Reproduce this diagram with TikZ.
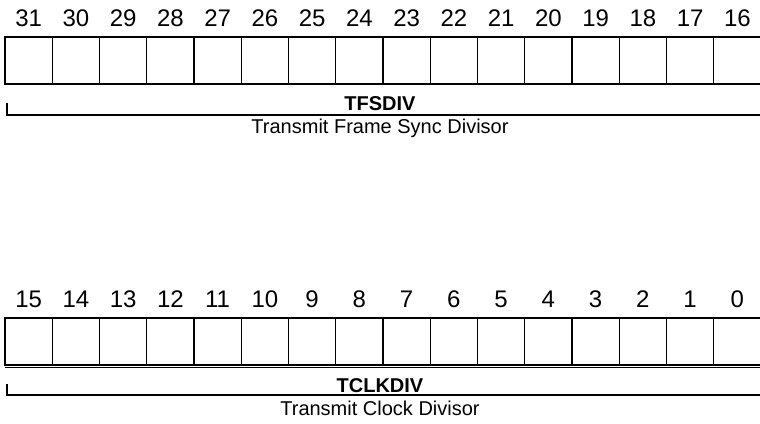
\documentclass[tikz,border=0pt]{standalone}
\usepackage{fontspec}
\setmainfont{Liberation Sans}
\usetikzlibrary{positioning}

\begin{document}
\begin{tikzpicture}[x=0.75pt, y=-0.75pt]

\tikzset{
    bit cell/.style={
        draw=black, line width=1pt,
        anchor=north west, outer sep=0pt, inner sep=0pt,
        minimum width=35.44pt, minimum height=35.25pt
    },
    bit number/.style={
        inner sep=0pt, font=\fontsize{18}{20}\selectfont
    },
    edge/.style={
        draw=black, line width=1.6pt
    },
    nibble/.style={
        draw=black, line width=1.9pt
    },
    bracket/.style={
        draw=black, line width=1.5pt
    },
    field name/.style={
        inner sep=0pt, anchor=base, font=\bfseries\fontsize{15}{18}\selectfont
    },
    field desc/.style={
        inner sep=0pt, anchor=base, font=\fontsize{15}{18}\selectfont
    }
}

\useasboundingbox (0,0) rectangle (760,424);

% Upper half: bits 31..16
\foreach \i in {0,...,15} {
    \pgfmathtruncatemacro{\bit}{31-\i}
    \node[bit cell] (t\i) at (5+\i*47.25, 37) {};
    \node[bit number, above=7.6pt of t\i.north] (tn\i) {\bit};
}
\draw[edge] (t0.north west) -- (t15.north east);
\draw[edge, line width=2.2pt] (t0.south west) -- (t15.south east);
\foreach \i in {0,4,8,12}
    \draw[nibble] (t\i.north west) -- (t\i.south west);

\coordinate (ttick) at (7,103);
\coordinate (tend) at (762,115);
\draw[bracket] (ttick) |- (tend);
\node[field name] (tfsdiv) at (380,110.5) {TFSDIV};
\node[field desc] (tfsdesc) at ([yshift=-17.5pt]tfsdiv.base) {Transmit Frame Sync Divisor};

% Lower half: bits 15..0
\foreach \i in {0,...,15} {
    \pgfmathtruncatemacro{\bit}{15-\i}
    \node[bit cell] (b\i) at (5+\i*47.25, 318) {};
    \node[bit number, above=7.6pt of b\i.north] (bn\i) {\bit};
}
\draw[edge] (b0.north west) -- (b15.north east);
\draw[line width=0.6pt, double, double distance=0.9pt] ([yshift=-1pt]b0.south west) -- ([yshift=-1pt]b15.south east);
\foreach \i in {0,4,8,12}
    \draw[nibble] (b\i.north west) -- (b\i.south west);

\coordinate (btick) at (7,384);
\coordinate (bend) at (762,395);
\draw[bracket] (btick) |- (bend);
\node[field name] (tclkdiv) at (380,392) {TCLKDIV};
\node[field desc] (tclkdesc) at ([yshift=-17.5pt]tclkdiv.base) {Transmit Clock Divisor};

\end{tikzpicture}
\end{document}
